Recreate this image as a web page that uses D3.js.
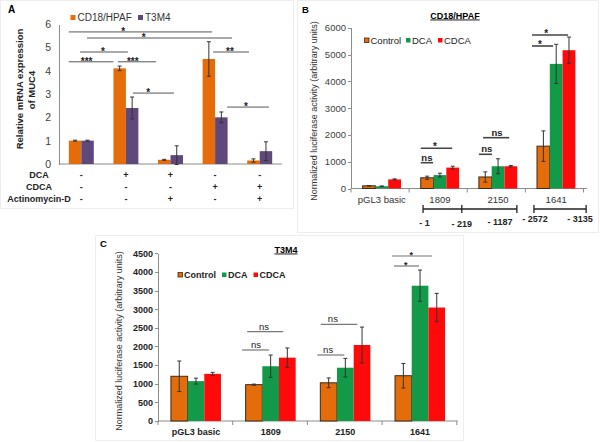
<!DOCTYPE html>
<meta charset="utf-8">
<style>
	body { margin: 0; background: #fff; }
	svg { font-family: "Liberation Sans", Arial, sans-serif; }
	.frame { fill: none; stroke: #ededed; }
	.axis path, .axis line { stroke: #8c8c8c; shape-rendering: crispEdges; }
	.axis text { fill: #404040; }
	.err { stroke: #333; stroke-width: 1; }
</style>
<script src="https://d3js.org/d3.v7.min.js"></script>
<svg width="600" height="442"></svg>
<script>
	// ---------- panel A data ----------
	var aGroups = [0, 1, 2, 3, 4];
	var aSeries = ["CD18/HPAF", "T3M4"];
	var aHpaf = [1.0, 4.1, 0.18, 4.5, 0.15];
	var aHpafErr = [0.02, 0.1, 0.02, 0.74, 0.07];
	var aT3m4 = [1.0, 2.4, 0.38, 2.0, 0.55];
	var aT3m4Err = [0.02, 0.47, 0.4, 0.23, 0.4];
	var aTicks = [0, 1, 2, 3, 4, 5, 6];
	var treatNames = ["DCA", "CDCA", "Actinomycin-D"];
	var treatDCA = ["-", "+", "+", "-", "-"];
	var treatCDCA = ["-", "-", "-", "+", "+"];
	var treatActD = ["-", "-", "+", "-", "+"];
	// [group from, pos in band, group to, pos in band, value, label, label pos along line]
	var aSig = [
		[0, 0.0, 3, 0.38, 5.66, "*", 0.38],
		[0, 0.73, 3, 1.18, 5.4, "*", 0.39],
		[0, 0.45, 1, 0.58, 4.8, "*", 0.48],
		[0, 0.0, 1, 0.0, 4.38, "***", 0.4],
		[1, 0.18, 2, -0.08, 4.38, "***", 0.39],
		[1, 0.78, 2, 0.64, 3.04, "*", 0.37],
		[3, 0.42, 4, 0.07, 4.8, "**", 0.47],
		[3, 0.98, 4, 0.87, 2.44, "*", 0.45]
	];

	// ---------- panels B / C data ----------
	var constructs = ["pGL3 basic", "1809", "2150", "1641"];
	var treatments = ["Control", "DCA", "CDCA"];
	var bControl = [100, 400, 430, 1580];
	var bControlErr = [10, 60, 190, 570];
	var bDCA = [85, 500, 830, 4650];
	var bDCAErr = [10, 70, 280, 730];
	var bCDCA = [340, 780, 830, 5160];
	var bCDCAErr = [20, 50, 30, 490];
	var bTicks = [0, 1000, 2000, 3000, 4000, 5000, 6000];
	var bSig = [
		[1, 0.0, 1, 0.82, 1500, "*", 0.45],
		[1, 0.0, 1, 0.32, 963, "ns", 0.5],
		[2, 0.0, 2, 0.34, 1276, "ns", 0.6],
		[2, 0.11, 2, 0.79, 1896, "ns", 0.53],
		[3, -0.13, 3, 0.42, 5317, "*", 0.38],
		[3, -0.13, 3, 0.81, 5728, "*", 0.39]
	];
	// promoter regions under panel B: [group, pos in band]
	var regionA = [[1, 0.06], [1, 1.07], [2, 0.99]];
	var regionB = [[3, -0.08], [3, 1.28]];
	var regionLabels = ["- 1", "- 219", "- 1187", "- 2572", "- 3135"];
	var regionLabelPos = [[1, 0.1], [1, 1.07], [2, 0.55], [3, -0.05], [3, 1.12]];

	var cControl = [1200, 975, 1025, 1215];
	var cControlErr = [410, 15, 130, 330];
	var cDCA = [1070, 1470, 1430, 3630];
	var cDCAErr = [80, 300, 250, 420];
	var cCDCA = [1265, 1700, 2040, 3045];
	var cCDCAErr = [40, 260, 480, 380];
	var cTicks = [0, 500, 1000, 1500, 2000, 2500, 3000, 3500, 4000, 4500];
	var cSig = [
		[1, -0.07, 1, 0.47, 1905, "ns", 0.51],
		[1, 0.03, 1, 0.75, 2396, "ns", 0.47],
		[2, -0.06, 2, 0.48, 1771, "ns", 0.4],
		[2, 0.01, 2, 0.74, 2595, "ns", 0.33],
		[3, -0.02, 3, 0.48, 4159, "*", 0.47],
		[3, -0.06, 3, 0.74, 4427, "*", 0.48]
	];

	var orange = "#e46c0a", purple = "#5f497a", green = "#139a48", red = "#ff0a0a";

	var svg = d3.select("svg");

	// light panel frames
	svg.append("rect").attr("class", "frame").attr("x", 0.5).attr("y", 0.5).attr("width", 293).attr("height", 208);
	svg.append("rect").attr("class", "frame").attr("x", 297.5).attr("y", 0.5).attr("width", 301).attr("height", 232);
	svg.append("rect").attr("class", "frame").attr("x", 95.5).attr("y", 235.5).attr("width", 368).attr("height", 205);

	function drawBars(g, x, xi, y, values, errs, colors, outline) {
		values.forEach(function(vals, si) {
			g.append("g").selectAll("rect")
				.data(vals)
				.enter().append("rect")
					.attr("x", function(d, i) { return x(i) + xi(si); })
					.attr("y", function(d) { return y(d); })
					.attr("width", xi.bandwidth())
					.attr("height", function(d) { return y(0) - y(d); })
					.attr("fill", colors[si])
					.attr("stroke", outline && si === 0 ? "#3a2a1a" : "none")
					.attr("stroke-width", 1);
			var eg = g.append("g");
			vals.forEach(function(d, i) {
				var cx = x(i) + xi(si) + xi.bandwidth() / 2;
				var e = errs[si][i];
				eg.append("line").attr("class", "err")
					.attr("x1", cx).attr("x2", cx).attr("y1", y(d - e)).attr("y2", y(d + e));
				eg.append("line").attr("class", "err")
					.attr("x1", cx - 2).attr("x2", cx + 2).attr("y1", y(d + e)).attr("y2", y(d + e));
				eg.append("line").attr("class", "err")
					.attr("x1", cx - 2).attr("x2", cx + 2).attr("y1", y(d - e)).attr("y2", y(d - e));
			});
		});
	}

	function drawSig(g, x, y, sig, opts) {
		sig.forEach(function(s) {
			var x1 = x(s[0]) + s[1] * x.bandwidth();
			var x2 = x(s[2]) + s[3] * x.bandwidth();
			var yy = y(s[4]);
			g.append("line")
				.attr("x1", x1).attr("x2", x2).attr("y1", yy).attr("y2", yy)
				.attr("stroke", opts.color).attr("stroke-width", opts.width);
			var isStar = s[5].indexOf("*") === 0;
			g.append("text")
				.attr("x", x1 + (x2 - x1) * s[6])
				.attr("y", isStar ? yy + opts.starDy : yy - 2)
				.attr("text-anchor", "middle")
				.attr("font-size", isStar ? opts.starSize : opts.nsSize)
				.attr("font-weight", isStar || opts.nsBold ? "bold" : "normal")
				.attr("fill", "#222")
				.text(s[5]);
		});
	}

	function yAxis(g, x0, scale, ticks, size, bold, tickSize, pad) {
		var ax = g.append("g")
			.attr("class", "axis")
			.attr("transform", "translate(" + x0 + ",0)")
			.call(d3.axisLeft(scale).tickValues(ticks).tickFormat(d3.format("d"))
				.tickSize(tickSize).tickPadding(pad).tickSizeOuter(0))
			.attr("font-family", null).attr("font-size", null);
		ax.selectAll("text").attr("font-size", size)
			.attr("font-weight", bold ? "bold" : "normal")
			.style("fill", bold ? "#222" : "#404040");
	}

	// ================= Panel A =================
	var xA = d3.scaleBand().domain(aGroups).range([59, 282]).paddingInner(0.44).paddingOuter(0.22);
	var xAi = d3.scaleBand().domain([0, 1]).range([0, xA.bandwidth()]);
	var yA = d3.scaleLinear().domain([0, 6]).range([164, 24]);
	var gA = svg.append("g");

	yAxis(gA, 59, yA, aTicks, 10.5, false, 0, 8);
	gA.append("line").attr("x1", 59).attr("x2", 282).attr("y1", yA(0)).attr("y2", yA(0))
		.attr("stroke", "#8c8c8c");

	drawBars(gA, xA, xAi, yA, [aHpaf, aT3m4], [aHpafErr, aT3m4Err], [orange, purple], false);
	drawSig(gA, xA, yA, aSig, {color: "#555", width: 1, starDy: 3, starSize: 10, nsSize: 10});

	// legend A
	aSeries.forEach(function(s, i) {
		var lx = [70.5, 138][i];
		gA.append("rect").attr("x", lx).attr("y", 15).attr("width", 5).attr("height", 5)
			.attr("fill", [orange, purple][i]);
		gA.append("text").attr("x", lx + 7).attr("y", 20.5).attr("font-size", 10).attr("fill", "#333").text(s);
	});

	gA.append("text").attr("transform", "rotate(-90)")
		.attr("x", -89).attr("y", 22.5).attr("text-anchor", "middle")
		.attr("font-size", 9.5).attr("font-weight", "bold").attr("fill", "#222")
		.text("Relative mRNA expression");
	gA.append("text").attr("transform", "rotate(-90)")
		.attr("x", -90).attr("y", 35).attr("text-anchor", "middle")
		.attr("font-size", 9.5).attr("font-weight", "bold").attr("fill", "#222")
		.text("of MUC4");

	// treatment table
	[treatDCA, treatCDCA, treatActD].forEach(function(row, r) {
		var ty = 178 + r * 12;
		gA.append("text").attr("x", 39).attr("y", ty).attr("text-anchor", "middle")
			.attr("font-size", 9).attr("font-weight", "bold").attr("fill", "#222").text(treatNames[r]);
		gA.selectAll(null).data(row).enter().append("text")
			.attr("x", function(d, i) { return xA(i) + xA.bandwidth() / 2; })
			.attr("y", ty)
			.attr("text-anchor", "middle")
			.attr("font-size", 9).attr("font-weight", "bold").attr("fill", "#222")
			.text(function(d) { return d; });
	});

	gA.append("text").attr("x", 8).attr("y", 13).attr("font-size", 10).attr("font-weight", "bold").text("A");

	// ================= Panel B =================
	var xB = d3.scaleBand().domain(d3.range(constructs.length)).range([351, 587]).paddingInner(0.34).paddingOuter(0.2);
	var xBi = d3.scaleBand().domain([0, 1, 2]).range([0, xB.bandwidth()]);
	var yB = d3.scaleLinear().domain([0, 6000]).range([188.5, 27.7]);
	var gB = svg.append("g");

	yAxis(gB, 351, yB, bTicks, 9.5, false, 3, 2);
	gB.append("line").attr("x1", 351).attr("x2", 587).attr("y1", yB(0)).attr("y2", yB(0)).attr("stroke", "#8c8c8c");
	gB.selectAll(null).data(d3.range(constructs.length + 1)).enter().append("line")
		.attr("x1", function(d) { return 351 + d * xB.step(); })
		.attr("x2", function(d) { return 351 + d * xB.step(); })
		.attr("y1", yB(0)).attr("y2", yB(0) + 4).attr("stroke", "#8c8c8c");
	gB.selectAll(null).data(constructs).enter().append("text")
		.attr("x", function(d, i) { return xB(i) + xB.bandwidth() / 2; })
		.attr("y", 202.5).attr("text-anchor", "middle")
		.attr("font-size", 9.5).attr("fill", "#333")
		.text(function(d) { return d; });

	drawBars(gB, xB, xBi, yB, [bControl, bDCA, bCDCA], [bControlErr, bDCAErr, bCDCAErr], [orange, green, red], true);
	drawSig(gB, xB, yB, bSig, {color: "#444", width: 1.6, starDy: 2, starSize: 10, nsSize: 9.5, nsBold: true});

	function legend(g, lxs, ly, size, bold) {
		treatments.forEach(function(t, i) {
			g.append("rect").attr("x", lxs[i]).attr("y", ly - 5.5).attr("width", 4.5).attr("height", 4.5)
				.attr("fill", [orange, green, red][i])
				.attr("stroke", i === 0 ? "#3a2a1a" : "none").attr("stroke-width", 0.8);
			g.append("text").attr("x", lxs[i] + 6).attr("y", ly).attr("font-size", size)
				.attr("font-weight", bold ? "bold" : "normal").attr("fill", "#222").text(t);
		});
	}
	legend(gB, [364.5, 406, 438], 43.5, 9.5, false);

	gB.append("text").attr("transform", "rotate(-90)")
		.attr("x", -111).attr("y", 316.5).attr("text-anchor", "middle")
		.attr("font-size", 9).attr("fill", "#333")
		.text("Normalized luciferase activity (arbitrary units)");
	gB.append("text").attr("x", 455).attr("y", 18.5).attr("text-anchor", "middle")
		.attr("font-size", 9).attr("font-weight", "bold").attr("text-decoration", "underline")
		.text("CD18/HPAF");
	gB.append("text").attr("x", 302).attr("y", 13.3).attr("font-size", 9.5).attr("font-weight", "bold").text("B");

	// promoter regions
	function regionX(p) { return xB(p[0]) + p[1] * xB.bandwidth(); }
	[regionA, regionB].forEach(function(reg) {
		gB.append("line").attr("x1", regionX(reg[0])).attr("x2", regionX(reg[reg.length - 1]))
			.attr("y1", 209).attr("y2", 209).attr("stroke", "#222").attr("stroke-width", 1.3);
		reg.forEach(function(p) {
			gB.append("line").attr("x1", regionX(p)).attr("x2", regionX(p))
				.attr("y1", 205).attr("y2", 213).attr("stroke", "#222").attr("stroke-width", 1.3);
		});
	});
	gB.selectAll(null).data(regionLabels).enter().append("text")
		.attr("x", function(d, i) { return regionX(regionLabelPos[i]); })
		.attr("y", function(d, i) { return [226, 227, 225, 222, 222][i]; })
		.attr("text-anchor", "middle")
		.attr("font-size", 9).attr("font-weight", "bold").attr("fill", "#222")
		.text(function(d) { return d; });

	// ================= Panel C =================
	var xC = d3.scaleBand().domain(d3.range(constructs.length)).range([158, 458]).paddingInner(0.33).paddingOuter(0.173);
	var xCi = d3.scaleBand().domain([0, 1, 2]).range([0, xC.bandwidth()]);
	var yC = d3.scaleLinear().domain([0, 4500]).range([421, 253.3]);
	var gC = svg.append("g");

	yAxis(gC, 158, yC, cTicks, 9, true, 3, 2);
	gC.append("line").attr("x1", 158).attr("x2", 458).attr("y1", yC(0)).attr("y2", yC(0)).attr("stroke", "#8c8c8c");
	gC.selectAll(null).data(d3.range(constructs.length + 1)).enter().append("line")
		.attr("x1", function(d) { return 158 + d * xC.step(); })
		.attr("x2", function(d) { return 158 + d * xC.step(); })
		.attr("y1", yC(0)).attr("y2", yC(0) + 4).attr("stroke", "#8c8c8c");
	gC.selectAll(null).data(constructs).enter().append("text")
		.attr("x", function(d, i) { return xC(i) + xC.bandwidth() / 2; })
		.attr("y", 434.5).attr("text-anchor", "middle")
		.attr("font-size", 9).attr("font-weight", "bold").attr("fill", "#222")
		.text(function(d) { return d; });

	drawBars(gC, xC, xCi, yC, [cControl, cDCA, cCDCA], [cControlErr, cDCAErr, cCDCAErr], [orange, green, red], true);
	drawSig(gC, xC, yC, cSig, {color: "#777", width: 1.2, starDy: 1.5, starSize: 9, nsSize: 9.5});

	legend(gC, [178, 222, 253.5], 278, 9, true);

	gC.append("text").attr("transform", "rotate(-90)")
		.attr("x", -341).attr("y", 121.5).attr("text-anchor", "middle")
		.attr("font-size", 9).attr("fill", "#333")
		.text("Normalized luciferase activity (arbitrary units)");
	gC.append("text").attr("x", 286).attr("y", 252.5).attr("text-anchor", "middle")
		.attr("font-size", 9).attr("font-weight", "bold").attr("text-decoration", "underline")
		.text("T3M4");
	gC.append("text").attr("x", 100).attr("y", 247.3).attr("font-size", 9.5).attr("font-weight", "bold").text("C");
</script>
